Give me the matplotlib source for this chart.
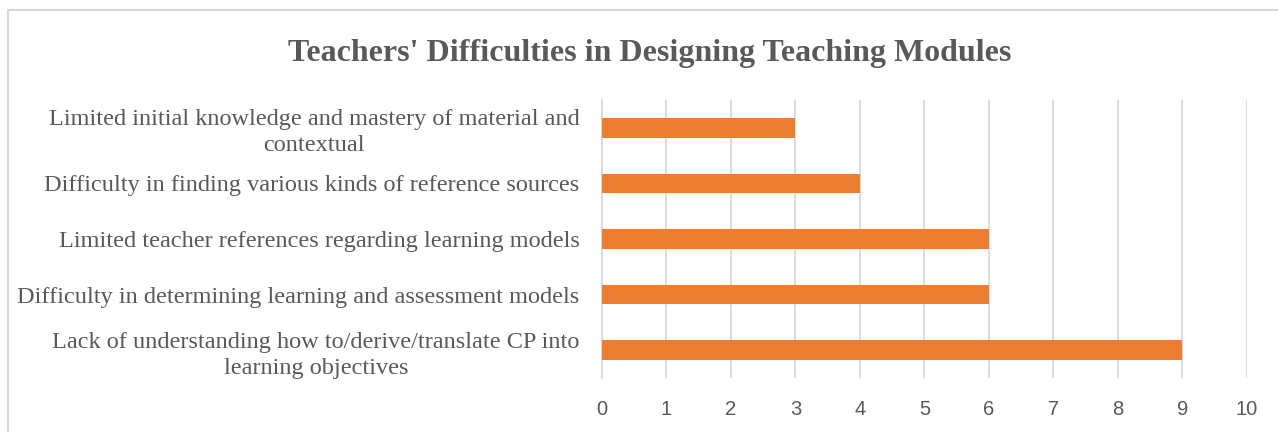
import matplotlib.pyplot as plt
from matplotlib.patches import Rectangle

# ==================== 数据 ====================
categories = [
    'Lack of understanding how to/derive/translate CP into\nlearning objectives',
    'Difficulty in determining learning and assessment models',
    'Limited teacher references regarding learning models',
    'Difficulty in finding various kinds of reference sources',
    'Limited initial knowledge and mastery of material and\ncontextual',
]
values = [9, 6, 6, 4, 3]
x_ticks = list(range(0, 11))
title = "Teachers' Difficulties in Designing Teaching Modules"

BAR_COLOR = '#ED7D31'
TEXT_COLOR = '#595959'
GRID_COLOR = '#D9D9D9'

fig = plt.figure(figsize=(12.78, 4.32), dpi=100)
ax = fig.add_axes([0.471, 0.125, 0.5047, 0.6435])

ax.barh(range(len(categories)), values, height=0.35, color=BAR_COLOR, zorder=3)

ax.set_xlim(0, 10)
ax.set_ylim(-0.5, len(categories) - 0.5)
ax.set_xticks(x_ticks)
ax.set_xticklabels([str(t) for t in x_ticks], fontfamily='Liberation Sans',
                   fontsize=14.5, color=TEXT_COLOR)
ax.set_yticks(range(len(categories)))
ax.set_yticklabels(categories, fontfamily='Liberation Serif', fontsize=17.5,
                   color=TEXT_COLOR, multialignment='center', linespacing=1.3)
ax.tick_params(axis='both', length=0)
ax.tick_params(axis='y', pad=16)
ax.tick_params(axis='x', pad=16)

ax.grid(axis='x', color=GRID_COLOR, linewidth=1.3, zorder=0)
for side in ['top', 'right', 'bottom']:
    ax.spines[side].set_visible(False)
ax.spines['left'].set_color(GRID_COLOR)
ax.spines['left'].set_linewidth(1.3)

fig.text(649.5 / 1278, 1 - 53 / 432, title, ha='center', va='center',
         fontfamily='Liberation Serif', fontweight='bold', fontsize=23,
         color=TEXT_COLOR)

# 外框
fig.patches.append(Rectangle((8 / 1278, -0.2), 1.2, 1.2 - 10 / 432,
                             transform=fig.transFigure, fill=False,
                             edgecolor=GRID_COLOR, linewidth=1.5))

fig.savefig('out.png', dpi=100)
